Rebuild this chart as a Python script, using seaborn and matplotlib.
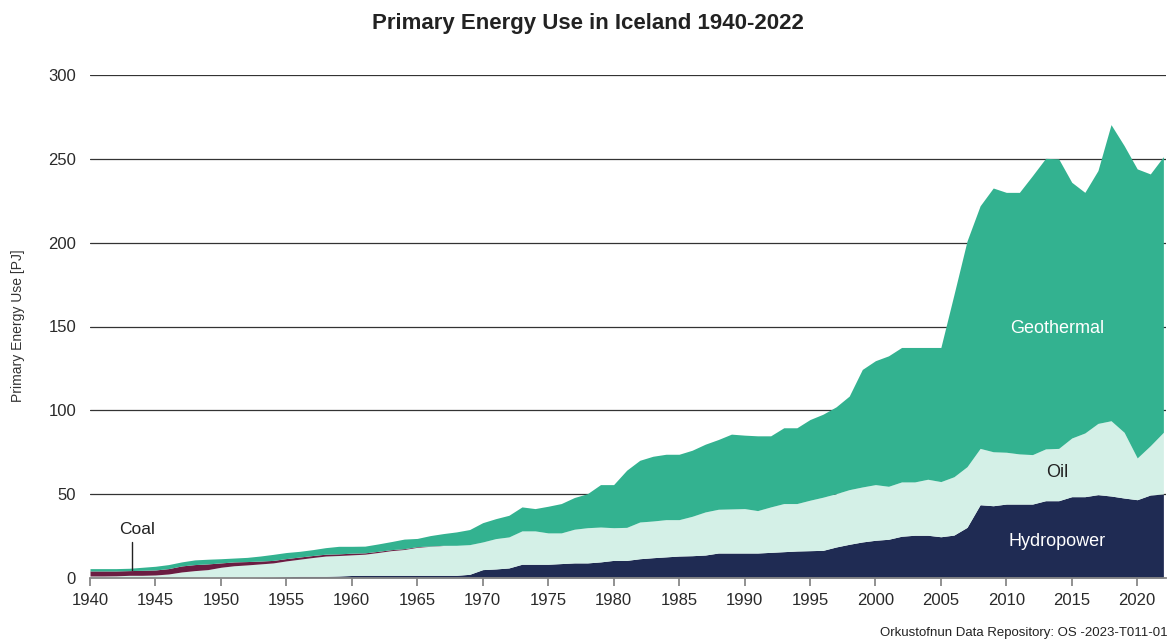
import numpy as np
import pandas as pd
import matplotlib
matplotlib.use("Agg")
import matplotlib.pyplot as plt
import seaborn as sns

# years 1940-2022
years = list(range(1940, 2023))

# values, PJ
hydro = [0, 0, 0, 0, 0, 0, 0, 0, 0, 0,                      # 1940s
         0, 0, 0, 0.2, 0.5, 0.8, 1.0, 1.0, 1.0, 1.2,          # 1950s
         1.5, 1.6, 1.6, 1.6, 1.6, 1.6, 1.6, 1.6, 1.6, 2.2,    # 1960s
         5.0, 5.4, 6.0, 8.2, 8.2, 8.2, 8.6, 9.0, 9.0, 9.6,    # 1970s
         10.5, 10.5, 11.5, 12.1, 12.6, 13.1, 13.3, 13.7, 14.9, 14.9,  # 1980s
         14.9, 14.9, 15.3, 15.7, 16.1, 16.3, 16.5, 18.5, 20.1, 21.5,  # 1990s
         22.5, 23.1, 24.9, 25.5, 25.5, 24.6, 25.6, 30.2, 43.7, 43.1,  # 2000s
         44.1, 44.1, 44.1, 46.1, 46.1, 48.5, 48.5, 49.7, 48.9, 47.7,  # 2010s
         46.7, 49.5, 50.1]

oil = [1.2, 1.2, 1.3, 1.6, 1.6, 1.8, 2.4, 3.6, 4.4, 5.0,
       6.4, 7.3, 7.8, 8.2, 8.5, 9.4, 10.2, 11.2, 12.1, 12.2,
       12.3, 12.6, 13.6, 14.7, 15.4, 16.7, 17.3, 17.8, 17.9, 17.7,
       16.5, 18.1, 18.5, 19.9, 19.9, 18.7, 18.3, 20.1, 21.0, 20.8,
       19.5, 19.7, 21.9, 21.9, 22.2, 21.7, 23.5, 25.7, 26.1, 26.3,
       26.5, 25.3, 27.1, 28.7, 28.3, 30.1, 31.7, 31.8, 32.6, 32.8,
       33.2, 31.6, 32.4, 31.8, 33.4, 32.9, 34.8, 36.2, 33.6, 32.2,
       30.9, 29.9, 29.5, 30.9, 31.2, 35.0, 38.0, 42.5, 44.9, 39.2,
       24.9, 29.4, 36.8]

coal = [3.0, 3.0, 2.9, 2.8, 3.0, 3.0, 3.2, 3.6, 3.6, 3.4,
        2.6, 2.3, 2.0, 1.7, 1.5, 1.4, 1.3, 1.2, 1.1, 1.0,
        1.0, 0.8, 0.7, 0.6, 0.5, 0.4, 0.2, 0.1, 0, 0,
        0, 0, 0, 0, 0, 0, 0, 0, 0, 0,
        0, 0, 0, 0, 0, 0, 0, 0, 0, 0,
        0, 0, 0, 0, 0, 0, 0, 0, 0, 0,
        0, 0, 0, 0, 0, 0, 0, 0, 0, 0,
        0, 0, 0, 0, 0, 0, 0, 0, 0, 0,
        0, 0, 0]

geothermal = [1.4, 1.4, 1.4, 1.4, 1.8, 2.2, 2.4, 2.4, 2.8, 2.8,
              2.5, 2.3, 2.5, 3.0, 3.6, 3.6, 3.4, 3.5, 3.9, 4.5,
              4.1, 4.0, 4.4, 4.8, 5.7, 4.9, 6.2, 7.0, 8.0, 9.0,
              11.5, 11.9, 12.9, 14.3, 13.3, 15.9, 17.5, 18.9, 20.3, 25.3,
              25.7, 34.1, 36.8, 38.6, 39.0, 39.0, 39.4, 40.4, 41.6, 44.6,
              43.8, 44.6, 42.4, 45.2, 45.2, 48.1, 49.5, 51.8, 55.8, 70.1,
              73.9, 77.8, 80.2, 80.2, 78.6, 80.0, 108.6, 134.6, 144.7, 157.3,
              155.0, 156.0, 166.4, 173.3, 172.7, 152.5, 143.5, 150.8, 176.6, 171.0,
              172.4, 162.1, 164.4]

sources = ["Hydropower", "Oil", "Coal", "Geothermal"]
colors = ["#1f2b53", "#d4f0e7", "#6b1d42", "#33b290"]

df = pd.DataFrame({"year": years, "Hydropower": hydro, "Oil": oil,
                   "Coal": coal, "Geothermal": geothermal})

sns.set_theme(style="white")
plt.rcParams['font.family'] = ['Liberation Sans', 'DejaVu Sans']

fig = plt.figure(figsize=(11.76, 6.43), dpi=100)
ax = fig.add_axes([90 / 1176, 65 / 643, 1076 / 1176, 503 / 643])

for yv in range(50, 301, 50):
    ax.axhline(yv, color="#333333", lw=0.9, zorder=0)

ax.stackplot(df["year"], [df[s] for s in sources], colors=sns.color_palette(colors),
             labels=sources, lw=0, zorder=2)

ax.set_xlim(1940, 2022.2)
ax.set_ylim(0, 300)
ax.set_xticks(range(1940, 2021, 5))
ax.set_yticks(range(0, 301, 50))
ax.tick_params(axis='x', which='major', labelsize=12, length=6, width=1.3,
               color="#888888", bottom=True, pad=4.5, labelcolor="#2a2a2a")
ax.tick_params(axis='y', which='major', labelsize=12, length=0, pad=10,
               labelcolor="#2a2a2a")

for side in ['top', 'right', 'left']:
    ax.spines[side].set_visible(False)
ax.spines['bottom'].set_color("#888888")
ax.spines['bottom'].set_linewidth(1.3)
ax.spines['bottom'].set_zorder(3)

fig.text(588 / 1176, 1 - 23 / 643, "Primary Energy Use in Iceland 1940-2022",
         ha="center", va="center", fontsize=16, fontweight="bold", color="#222222")
fig.text(18 / 1176, 1 - 326 / 643, "Primary Energy Use [PJ]", rotation=90,
         ha="center", va="center", fontsize=10, color="#333333")
fig.text(1168 / 1176, 1 - 633 / 643, "Orkustofnun Data Repository: OS -2023-T011-01",
         ha="right", va="center", fontsize=9.5, color="#222222")

ax.text(2013.9, 149, "Geothermal", color="white", fontsize=13, ha="center", va="center", zorder=4)
ax.text(2013.9, 63, "Oil", color="#222222", fontsize=13, ha="center", va="center", zorder=4)
ax.text(2013.9, 21.5, "Hydropower", color="white", fontsize=13, ha="center", va="center", zorder=4)
ax.text(1943.6, 29.2, "Coal", color="#222222", fontsize=12.5, ha="center", va="center", zorder=4)
ax.plot([1943.2, 1943.2], [21.6, 4.8], color="#222222", lw=1, zorder=4)

fig.savefig("out.png", dpi=100)
